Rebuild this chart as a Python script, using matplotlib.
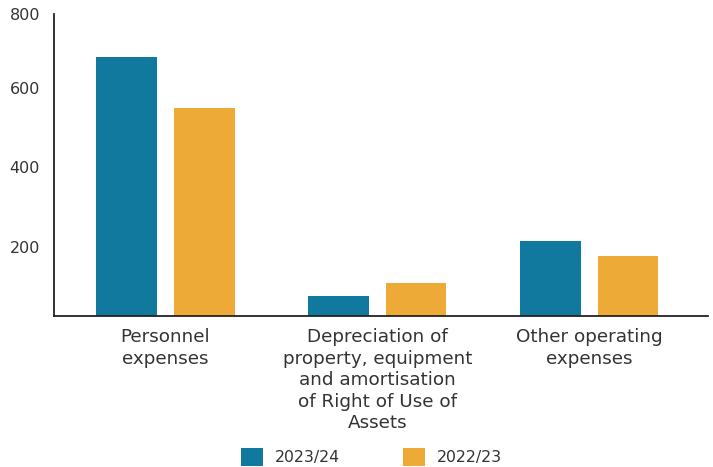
import matplotlib
matplotlib.use("Agg")
import matplotlib.pyplot as plt
import numpy as np

categories = ["Personnel\nexpenses",
              "Depreciation of\nproperty, equipment\nand amortisation\nof Right of Use of\nAssets",
              "Other operating\nexpenses"]
series_names = ["2023/24", "2022/23"]
values_2324 = [678, 77, 215]
values_2223 = [550, 109, 177]
ytick_vals = [200, 400, 600]
ytick_labels = ["200", "400", "600"]

colors = ["#11799E", "#EDAA36"]
text_color = "#333333"

plt.rcParams['font.family'] = ['DejaVu Sans']

fig = plt.figure(figsize=(7.13, 4.67), dpi=100)
ax = fig.add_axes([54/713, 1-316/467, (708-54)/713, (316-14)/467])

x = np.arange(len(categories))
w = 0.286
off = 0.183
ax.bar(x - off, values_2324, width=w, color=colors[0], label=series_names[0])
ax.bar(x + off, values_2223, width=w, color=colors[1], label=series_names[1])

ymin, ymax = 26, 786
ax.set_ylim(ymin, ymax)
ax.set_xlim(-0.526, 2.56)
ax.set_yticks(ytick_vals + [ymax])
ax.set_yticklabels(ytick_labels + ["800"])
ax.tick_params(axis='y', length=0, pad=10, labelsize=11.5, labelcolor=text_color)
ax.set_xticks(x)
ax.set_xticklabels(categories, fontsize=13.2, color=text_color, linespacing=1.24)
ax.tick_params(axis='x', length=0, pad=9)

for s in ["top", "right"]:
    ax.spines[s].set_visible(False)
for s in ["left", "bottom"]:
    ax.spines[s].set_color("#222222")
    ax.spines[s].set_linewidth(1.3)

leg = fig.legend(loc="center", bbox_to_anchor=(371.5/713, 1-457/467), ncol=2,
                 frameon=False, fontsize=11.3, handlelength=1.4, handleheight=1.4,
                 handletextpad=0.76, columnspacing=4.0, labelcolor=text_color)

fig.savefig("out.png", dpi=100)
